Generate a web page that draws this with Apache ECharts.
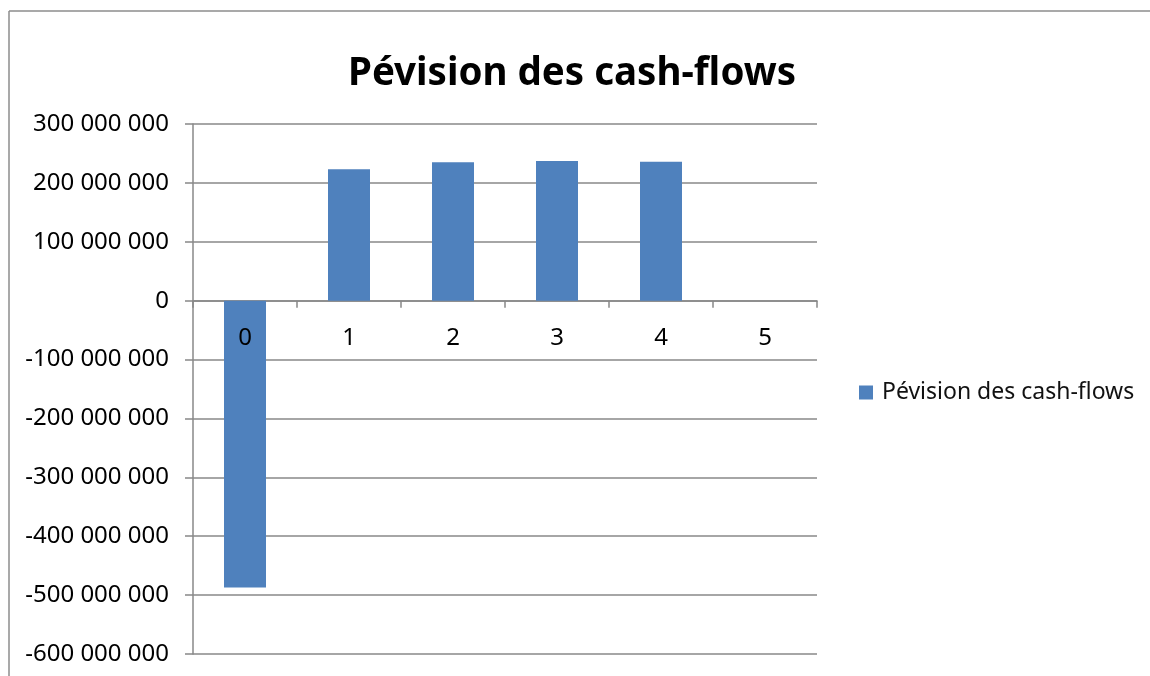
<!DOCTYPE html>
<html>
<head>
<meta charset="utf-8">
<script src="https://cdn.jsdelivr.net/npm/echarts@6/dist/echarts.min.js"></script>
<style>
  html, body { margin: 0; padding: 0; background: #fff; }
  #chart { width: 1150px; height: 676px; }
</style>
</head>
<body>
<div id="chart"></div>
<script>
const periods = ["0", "1", "2", "3", "4", "5"];
const cashFlows = [-487000000, 223000000, 235000000, 237000000, 236000000, 0];
const seriesName = "Pévision des cash-flows";
const chartTitle = "Pévision des cash-flows";

const yMin = -600000000;
const yMax = 300000000;
const yStep = 100000000;

const font = "'Noto Sans', 'Open Sans', sans-serif";
const gridColor = "#888888";

const gridTop = 124;
const gridBottom = 22;
const plotHeight = 676 - gridTop - gridBottom;
// distance from the plot bottom up to the zero line, for the label axis
const zeroOffset = plotHeight * (0 - yMin) / (yMax - yMin);

function spaced(v) {
  const s = String(Math.abs(v)).replace(/\B(?=(\d{3})+(?!\d))/g, " ");
  return v < 0 ? "-" + s : s;
}

const chart = echarts.init(document.getElementById("chart"));

chart.setOption({
  animation: false,
  backgroundColor: "#fff",
  textStyle: { fontFamily: font },
  title: {
    text: chartTitle,
    left: 567,
    textAlign: "center",
    top: 50,
    textStyle: { fontFamily: font, fontSize: 38.5, fontWeight: "bold", color: "#000" },
  },
  graphic: [
    {
      type: "line",
      shape: { x1: 9, y1: 11, x2: 1150, y2: 11 },
      style: { stroke: "#8c8c8c", lineWidth: 1.5 },
      silent: true,
    },
    {
      type: "line",
      shape: { x1: 9, y1: 11, x2: 9, y2: 676 },
      style: { stroke: "#8c8c8c", lineWidth: 1.5 },
      silent: true,
    },
  ],
  legend: {
    left: 854,
    top: 376,
    itemWidth: 14,
    itemHeight: 14,
    icon: "rect",
    data: [seriesName],
    textStyle: { fontFamily: font, fontSize: 23, color: "#111", padding: [0, 0, 0, 4] },
  },
  grid: { left: 193, right: 333, top: gridTop, bottom: gridBottom, containLabel: false, outerBoundsMode: "none" },
  xAxis: [
    {
      type: "category",
      data: periods,
      axisLine: { onZero: true, lineStyle: { color: gridColor, width: 1.5 } },
      axisTick: { show: true, length: 7, lineStyle: { color: gridColor, width: 1.5 } },
      axisLabel: { show: false },
      splitLine: { show: false },
    },
    {
      type: "category",
      data: periods,
      position: "bottom",
      offset: -zeroOffset,
      axisLine: { show: false, onZero: false },
      axisTick: { show: false },
      axisLabel: { color: "#000", fontSize: 24, margin: 25, fontFamily: font },
      splitLine: { show: false },
      z: 5,
    },
  ],
  yAxis: {
    type: "value",
    min: yMin,
    max: yMax,
    interval: yStep,
    axisLine: { show: true, lineStyle: { color: gridColor, width: 1.5 } },
    axisTick: { show: true, length: 8, lineStyle: { color: gridColor, width: 1.5 } },
    axisLabel: { color: "#000", fontSize: 24, margin: 24, fontFamily: font, formatter: spaced },
    splitLine: { show: true, lineStyle: { color: gridColor, width: 1.5 } },
  },
  series: [
    {
      name: seriesName,
      type: "bar",
      data: cashFlows,
      barWidth: 42,
      itemStyle: { color: "#4f81bd" },
    },
  ],
});
</script>
</body>
</html>
